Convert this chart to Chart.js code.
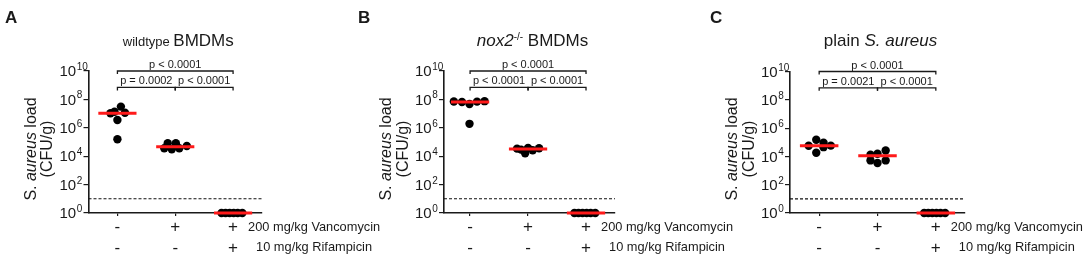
<!DOCTYPE html>
<html lang="en">
<head>
    <meta charset="UTF-8">
    <title>S. aureus load in BMDMs</title>

    <!-- Chart.js -->
    <script src="https://cdn.jsdelivr.net/npm/chart.js"></script>

    <style>
        body { margin: 0; background: #fff; }
        #wrap { position: relative; width: 1084px; height: 262px; }
        #wrap canvas { position: absolute; left: 0; top: 0; }
    </style>
</head>
<body>
<div id="wrap">
    <canvas id="chartA" width="1084" height="262"></canvas>
    <canvas id="chartB" width="1084" height="262"></canvas>
    <canvas id="chartC" width="1084" height="262"></canvas>
</div>

<script>
    // categories: untreated, vancomycin, vancomycin + rifampicin
    const groups = [0, 1, 2];
    const vancoSigns = ['-', '+', '+'];
    const rifaSigns = ['-', '-', '+'];
    const doseLabels = ['200 mg/kg Vancomycin', '10 mg/kg Rifampicin'];
    const yTickValues = [1, 1e2, 1e4, 1e6, 1e8, 1e10];
    const detectionLimit = 10;

    // A - wildtype BMDMs (CFU/g)
    const wtLoad = [
        [1.05e7, 1.35e7, 3.1e7, 1.15e7, 3.5e6, 1.55e5],
        [3.6e4, 8.1e4, 3.1e4, 8.1e4, 3.6e4, 5.2e4],
        [1, 1, 1, 1, 1, 1]
    ];
    const wtSpread = [
        [-0.12, -0.05, 0.06, 0.13, 0, 0],
        [-0.19, -0.13, -0.06, 0.01, 0.07, 0.2],
        [-0.2, -0.13, -0.06, 0.01, 0.08, 0.16]
    ];
    const wtMedian = [1.05e7, 4.7e4, 1];
    const wtP = ['p < 0.0001', 'p = 0.0002', 'p < 0.0001'];

    // B - nox2-/- BMDMs
    const nox2Load = [
        [7.2e7, 6.5e7, 4.8e7, 7.0e7, 7.5e7, 1.9e6],
        [3.4e4, 2.9e4, 1.6e4, 3.8e4, 2.6e4, 3.6e4],
        [1, 1, 1, 1, 1, 1]
    ];
    const nox2Spread = [
        [-0.28, -0.14, -0.01, 0.12, 0.25, -0.01],
        [-0.19, -0.12, -0.05, 0.0, 0.08, 0.19],
        [-0.2, -0.13, -0.06, 0.01, 0.08, 0.16]
    ];
    const nox2Median = [6.6e7, 3.2e4, 1];
    const nox2P = ['p < 0.0001', 'p < 0.0001', 'p < 0.0001'];

    // C - plain S. aureus
    const plainLoad = [
        [5.6e4, 1.5e5, 1.8e4, 9.3e4, 4.5e4, 5.8e4],
        [1.3e4, 5.2e3, 1.55e4, 3.4e3, 2.6e4, 5.2e3],
        [1, 1, 1, 1, 1, 1]
    ];
    const plainSpread = [
        [-0.18, -0.05, -0.05, 0.075, 0.075, 0.2],
        [-0.12, -0.12, 0, 0, 0.14, 0.14],
        [-0.2, -0.13, -0.06, 0.01, 0.08, 0.16]
    ];
    const plainMedian = [5.6e4, 1.1e4, 1];
    const plainP = ['p < 0.0001', 'p = 0.0021', 'p < 0.0001'];

    const FONT = 'Arial, "Liberation Sans", Helvetica, sans-serif';
    const INK = '#1a1a1a';

    // panel layout (pixel boxes of each plot area)
    const panels = [
        { id: 'chartA', letter: 'A', letterX: 5, area: { left: 88.5, right: 262, top: 71, bottom: 213 },
          xMin: -0.5, xMax: 2.5, load: wtLoad, spread: wtSpread, median: wtMedian, p: wtP,
          title: [{ t: 'wildtype ', size: 13 }, { t: 'BMDMs', size: 17 }] },
        { id: 'chartB', letter: 'B', letterX: 358, area: { left: 444, right: 615, top: 71, bottom: 213 },
          xMin: -0.45, xMax: 2.5, load: nox2Load, spread: nox2Spread, median: nox2Median, p: nox2P,
          title: [{ t: 'nox2', size: 17, italic: true }, { t: '-/-', size: 10, sup: true }, { t: ' BMDMs', size: 17 }] },
        { id: 'chartC', letter: 'C', letterX: 710, area: { left: 790, right: 965, top: 71.5, bottom: 213 },
          xMin: -0.5, xMax: 2.5, load: plainLoad, spread: plainSpread, median: plainMedian, p: plainP,
          title: [{ t: 'plain ', size: 17 }, { t: 'S. aureus', size: 17, italic: true }] }
    ];

    function setFont(ctx, part) {
        ctx.font = (part.italic ? 'italic ' : '') + part.size + 'px ' + FONT;
    }

    // draws mixed-style text centred on cx
    function drawRich(ctx, parts, cx, y) {
        let total = 0;
        parts.forEach(part => { setFont(ctx, part); total += ctx.measureText(part.t).width; });
        let x = cx - total / 2;
        ctx.textAlign = 'left';
        parts.forEach(part => {
            setFont(ctx, part);
            ctx.fillText(part.t, x, part.sup ? y - 6 : y);
            x += ctx.measureText(part.t).width;
        });
    }

    function bracket(ctx, x1, x2, y, label) {
        ctx.beginPath();
        ctx.moveTo(x1, y + 3); ctx.lineTo(x1, y);
        ctx.lineTo(x2, y); ctx.lineTo(x2, y + 3);
        ctx.stroke();
        ctx.font = '11px ' + FONT;
        ctx.textAlign = 'center';
        ctx.textBaseline = 'alphabetic';
        ctx.fillText(label, (x1 + x2) / 2, y - 3);
    }

    function panelPlugin(p) {
        return {
            id: 'panel' + p.letter,
            afterDraw(chart) {
                const ctx = chart.ctx;
                const xs = chart.scales.x, ys = chart.scales.y, area = chart.chartArea;
                ctx.save();
                ctx.fillStyle = INK;
                ctx.strokeStyle = INK;
                ctx.lineWidth = 1.3;

                // panel letter
                ctx.font = 'bold 17px ' + FONT;
                ctx.textAlign = 'left';
                ctx.textBaseline = 'alphabetic';
                ctx.fillText(p.letter, p.letterX, 23);

                // title
                ctx.textBaseline = 'alphabetic';
                drawRich(ctx, p.title, (area.left + area.right) / 2 + 3, 46);

                // y tick labels 10^n
                yTickValues.forEach(v => {
                    const y = ys.getPixelForValue(v);
                    ctx.font = '15px ' + FONT;
                    ctx.textAlign = 'left';
                    ctx.textBaseline = 'middle';
                    ctx.fillText('10', area.left - 29, y + 1);
                    const w = ctx.measureText('10').width;
                    ctx.font = '10px ' + FONT;
                    ctx.textBaseline = 'alphabetic';
                    ctx.fillText(String(Math.round(Math.log10(v))), area.left - 29 + w + 0.5, y - 1);
                });

                // y axis title
                ctx.save();
                ctx.translate(area.left - 57, 149);
                ctx.rotate(-Math.PI / 2);
                ctx.textBaseline = 'middle';
                drawRich(ctx, [{ t: 'S. ', size: 16 }, { t: 'aureus', size: 16, italic: true }, { t: ' load', size: 16 }], 0, 0);
                ctx.translate(0, 16.5);
                drawRich(ctx, [{ t: '(CFU/g)', size: 16 }], 0, 0);
                ctx.restore();

                // treatment rows
                ctx.font = '17px ' + FONT;
                ctx.textAlign = 'center';
                ctx.textBaseline = 'middle';
                groups.forEach(g => {
                    const x = xs.getPixelForValue(g);
                    ctx.fillText(vancoSigns[g], x, 227);
                    ctx.fillText(rifaSigns[g], x, 248);
                });
                ctx.font = '12.8px ' + FONT;
                ctx.textAlign = 'left';
                const xLast = xs.getPixelForValue(groups[2]);
                ctx.fillText(doseLabels[0], xLast + 15, 227);
                ctx.fillText(doseLabels[1], xLast + 23, 247);

                // significance brackets
                const x0 = xs.getPixelForValue(0), x1 = xs.getPixelForValue(1), x2 = xs.getPixelForValue(2);
                const yTop = ys.getPixelForValue(1e10), yLow = ys.getPixelForValue(7e8);
                bracket(ctx, x0, x2, yTop, p.p[0]);
                bracket(ctx, x0, x1, yLow, p.p[1]);
                bracket(ctx, x1, x2, yLow, p.p[2]);

                ctx.restore();
            }
        };
    }

    function makeChart(p) {
        const datasets = [];
        p.load.forEach((vals, g) => {
            datasets.push({
                type: 'scatter',
                data: vals.map((v, i) => ({ x: groups[g] + p.spread[g][i], y: v })),
                pointRadius: 4.2,
                backgroundColor: '#000',
                borderWidth: 0,
                clip: false,
                order: 2
            });
        });
        p.median.forEach((m, g) => {
            datasets.push({
                type: 'line',
                data: [{ x: groups[g] - 0.33, y: m }, { x: groups[g] + 0.33, y: m }],
                borderColor: '#ff1a1a',
                borderWidth: 3,
                pointRadius: 0,
                clip: false,
                order: 1
            });
        });
        // limit of detection
        datasets.push({
            type: 'line',
            data: [{ x: p.xMin, y: detectionLimit }, { x: p.xMax, y: detectionLimit }],
            borderColor: '#111',
            borderWidth: 1.1,
            borderDash: [3, 2],
            pointRadius: 0,
            order: 3
        });

        const axisStyle = { color: INK, width: 1.6 };
        return new Chart(document.getElementById(p.id), {
            type: 'scatter',
            data: { datasets },
            options: {
                responsive: false,
                animation: false,
                events: [],
                layout: { padding: { left: p.area.left - 20, right: 1084 - p.area.right, top: p.area.top, bottom: 0 } },
                plugins: { legend: { display: false }, tooltip: { enabled: false } },
                scales: {
                    x: {
                        type: 'linear', min: p.xMin, max: p.xMax,
                        afterBuildTicks: s => { s.ticks = groups.map(v => ({ value: v })); },
                        afterFit: s => { s.height = 262 - p.area.bottom; },
                        ticks: { display: false },
                        grid: { drawOnChartArea: false, drawTicks: true, tickLength: 3, color: INK, lineWidth: 1.2 },
                        border: axisStyle
                    },
                    y: {
                        type: 'logarithmic', min: 1, max: 1e10,
                        afterBuildTicks: s => { s.ticks = yTickValues.map(v => ({ value: v })); },
                        afterFit: s => { s.width = 20; },
                        ticks: { display: false },
                        grid: { drawOnChartArea: false, drawTicks: true, tickLength: 5, color: INK, lineWidth: 1.2 },
                        border: axisStyle
                    }
                }
            },
            plugins: [panelPlugin(p)]
        });
    }

    panels.forEach(makeChart);
</script>
</body>
</html>
